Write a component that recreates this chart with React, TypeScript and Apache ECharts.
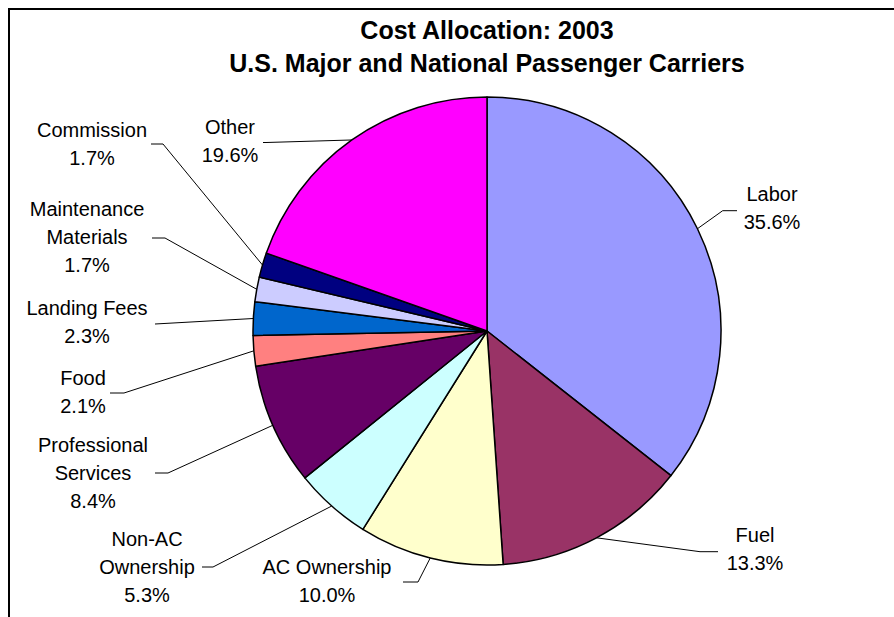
import React, { useEffect, useRef } from 'react';
import * as echarts from 'echarts';

const categories = [
  'Labor',
  'Fuel',
  'AC Ownership',
  'Non-AC\nOwnership',
  'Professional\nServices',
  'Food',
  'Landing Fees',
  'Maintenance\nMaterials',
  'Commission',
  'Other',
];
const shares = [35.6, 13.3, 10.0, 5.3, 8.4, 2.1, 2.3, 1.7, 1.7, 19.6];
const sliceColors = [
  '#9999FF', '#993366', '#FFFFCC', '#CCFFFF', '#660066',
  '#FF8080', '#0066CC', '#CCCCFF', '#000080', '#FF00FF',
];
const titleLines = ['Cost Allocation: 2003', 'U.S. Major and National Passenger Carriers'];

// layout (chart pixels)
const PIE_CENTER = [477, 321];
const PIE_RADIUS = 234;
const labelPos = [
  [762, 198], [745, 539], [317, 570.5], [137, 557], [83, 463],
  [73, 382], [77, 312], [77, 227], [82, 134], [220, 130.5],
];
const labelBends = [
  [[712.7, 200.7], [727, 200.7]],
  [[690, 541.7], [708, 541.7]],
  [[408, 572], [393, 572]],
  [[203, 557], [192, 557]],
  [[158, 463], [145, 463]],
  [[114, 383], [100, 383]],
  [[145, 314], [145, 314]],
  [[155, 228], [142, 228]],
  [[153, 134], [141, 134]],
  [[256, 132.5], [253, 132.5]],
];

const FONT = '"Liberation Sans", Arial, Helvetica, sans-serif';

function edgePoint(i: number) {
  const total = shares.reduce((a, b) => a + b, 0);
  let before = 0;
  for (let k = 0; k < i; k++) before += shares[k];
  const mid = ((before + shares[i] / 2) / total) * Math.PI * 2;
  return [PIE_CENTER[0] + PIE_RADIUS * Math.sin(mid), PIE_CENTER[1] - PIE_RADIUS * Math.cos(mid)];
}

export default function App() {
  const ref = useRef<HTMLDivElement>(null);
  useEffect(() => {
    if (!ref.current) return;
    const chart = echarts.init(ref.current, undefined, { renderer: 'svg' });
    chart.setOption({
      animation: false,
      backgroundColor: '#fff',
      graphic: titleLines.map((t, i) => ({
        type: 'text',
        x: 477,
        y: i === 0 ? 20 : 53,
        style: {
          text: t,
          fill: '#000',
          font: `bold 25px ${FONT}`,
          textAlign: 'center',
          textVerticalAlign: 'middle',
        },
      })),
      series: [
        {
          type: 'pie',
          center: PIE_CENTER,
          radius: PIE_RADIUS,
          startAngle: 90,
          clockwise: true,
          avoidLabelOverlap: false,
          emphasis: { disabled: true },
          data: categories.map((name, i) => ({
            name,
            value: shares[i],
            itemStyle: { color: sliceColors[i] },
          })),
          itemStyle: { borderColor: '#000', borderWidth: 1.5 },
          label: {
            show: true,
            position: 'outside',
            color: '#000',
            fontFamily: FONT,
            fontSize: 20,
            lineHeight: 28,
            align: 'center',
            formatter: (p: any) => `${p.name}\n${shares[p.dataIndex].toFixed(1)}%`,
          },
          labelLine: {
            show: true,
            length: 10,
            length2: 10,
            smooth: false,
            lineStyle: { color: '#000', width: 1 },
          },
          labelLayout: (params: any) => {
            const i = params.dataIndex;
            const p0 =
              params.labelLinePoints && params.labelLinePoints[0]
                ? params.labelLinePoints[0]
                : edgePoint(i);
            return {
              x: labelPos[i][0],
              y: labelPos[i][1],
              align: 'center',
              verticalAlign: 'middle',
              labelLinePoints: [p0, labelBends[i][0], labelBends[i][1]],
            };
          },
        },
      ],
    });
    return () => chart.dispose();
  }, []);
  return (
    <div
      style={{
        position: 'fixed',
        left: 8,
        top: 8,
        width: 884,
        height: 607,
        borderTop: '2px solid #000',
        borderLeft: '2px solid #000',
        background: '#fff',
      }}
    >
      <div ref={ref} style={{ width: 884, height: 607 }} />
    </div>
  );
}
